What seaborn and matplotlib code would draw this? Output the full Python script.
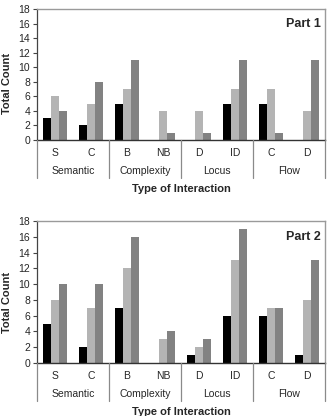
import matplotlib
matplotlib.use("Agg")
import matplotlib.pyplot as plt
import seaborn as sns
import pandas as pd
from matplotlib.lines import Line2D
import matplotlib.transforms as mtransforms

sns.set_theme(style="white")
plt.rcParams['font.family'] = ['Liberation Sans', 'DejaVu Sans']

sub_labels = ["S", "C", "B", "NB", "D", "ID", "C", "D"]
groups = ["Semantic", "Complexity", "Locus", "Flow"]
series = ["Series A", "Series B", "Series C"]
colors = ["#000000", "#b4b4b4", "#828282"]

part1_a = [3, 2, 5, 0, 0, 5, 5, 0]
part1_b = [6, 5, 7, 4, 4, 7, 7, 4]
part1_c = [4, 8, 11, 1, 1, 11, 1, 11]

part2_a = [5, 2, 7, 0, 1, 6, 6, 1]
part2_b = [8, 7, 12, 3, 2, 13, 7, 8]
part2_c = [10, 10, 16, 4, 3, 17, 7, 13]

keys = [f"{i}_{s}" for i, s in enumerate(sub_labels)]

W, H = 329, 416
fig = plt.figure(figsize=(W / 100, H / 100), dpi=100)

def px_axes(left, top, right, bottom):
    return fig.add_axes([left / W, 1 - bottom / H, (right - left) / W, (bottom - top) / H])

def draw(ax, a, b, c, title):
    rows = []
    for k, va, vb, vc in zip(keys, a, b, c):
        rows.append((k, series[0], va))
        rows.append((k, series[1], vb))
        rows.append((k, series[2], vc))
    df = pd.DataFrame(rows, columns=["cat", "series", "value"])
    sns.barplot(data=df, x="cat", y="value", hue="series", order=keys,
                hue_order=series, palette=colors, width=0.667, ax=ax,
                legend=False, saturation=1, linewidth=0, errorbar=None)
    ax.set_xlim(-0.5, len(keys) - 0.5)
    ax.set_ylim(0, 18)
    ax.set_yticks(range(0, 19, 2))
    ax.tick_params(axis="y", left=True, length=3, width=0.8, color="#444444",
                   labelsize=7.5, pad=2)
    ax.set_xticks([])
    ax.set_xlabel("")
    ax.set_ylabel("Total Count", fontsize=8, fontweight="bold")
    ax.yaxis.set_label_coords(-0.088, 0.43)
    for side in ["top", "right"]:
        ax.spines[side].set_color("#9a9a9a")
        ax.spines[side].set_linewidth(1.0)
    ax.spines["left"].set_color("#444444")
    ax.spines["bottom"].set_color("#333333")
    ax.spines["left"].set_linewidth(0.9)
    ax.spines["bottom"].set_linewidth(1.0)
    ax.text(0.985, 0.93, title, transform=ax.transAxes, ha="right", va="top",
            fontsize=9, fontweight="bold")
    trans = mtransforms.blended_transform_factory(ax.transData, ax.transAxes)

    def off(px):
        return mtransforms.offset_copy(trans, fig=fig, x=0, y=-px * 72 / 100,
                                       units="points")
    for i, s in enumerate(sub_labels):
        ax.text(i, 0, s, transform=off(13), ha="center", va="center", fontsize=7.5)
    for g, name in enumerate(groups):
        ax.text(2 * g + 0.5, 0, name, transform=off(31), ha="center", va="center",
                fontsize=7.5)
    for xb in [-0.5, 1.5, 3.5, 5.5, 7.5]:
        p0 = trans.transform((xb, 0))
        p1 = off(38).transform((xb, 0))
        fig.add_artist(Line2D([p0[0] / W, p1[0] / W], [p0[1] / H, p1[1] / H],
                              color="#8a8a8a", linewidth=0.9,
                              transform=fig.transFigure))
    ax.text(3.5, 0, "Type of Interaction", transform=off(49), ha="center",
            va="center", fontsize=8, fontweight="bold")

ax1 = px_axes(37, 9, 325, 140)
draw(ax1, part1_a, part1_b, part1_c, "Part 1")
ax2 = px_axes(37, 221, 325, 363)
draw(ax2, part2_a, part2_b, part2_c, "Part 2")

fig.savefig("out.png", dpi=100)
